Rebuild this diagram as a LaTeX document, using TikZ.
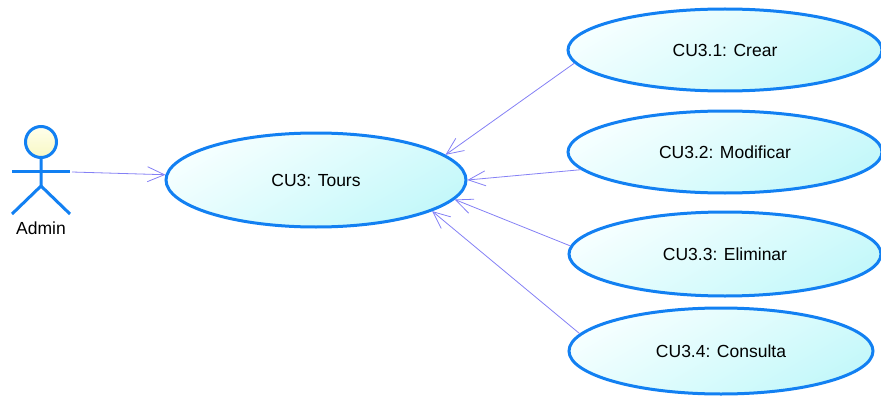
\documentclass[tikz,border=0pt]{standalone}
\usepackage{fontspec}
\setmainfont{Liberation Sans}
\usetikzlibrary{shapes.geometric,arrows.meta}
\definecolor{ucblue}{RGB}{18,128,242}
\definecolor{ucline}{RGB}{132,128,245}
\definecolor{ucpale}{RGB}{246,255,255}
\definecolor{uccyan}{RGB}{196,248,250}
\definecolor{headpale}{RGB}{255,255,236}
\definecolor{headyel}{RGB}{248,248,196}
\begin{document}
\begin{tikzpicture}[x=1pt,y=-1pt,>={Straight Barb[length=17pt,width=15pt]},
usecase/.style={ellipse,draw=ucblue,line width=3pt,
  top color=ucpale,bottom color=uccyan,shading angle=30,
  font=\fontsize{17.5}{20}\selectfont,inner sep=0pt},
assoc/.style={draw=ucline,line width=0.8pt},
actorline/.style={draw=ucblue,line width=3pt}]
\useasboundingbox (0,0) rectangle (881,396);
% use cases
\node[usecase,minimum width=300pt,minimum height=94pt] (cu3) at (316,180) {CU3: Tours};
\node[usecase,minimum width=314pt,minimum height=82pt] (cu31) at (725,50) {CU3.1: Crear};
\node[usecase,minimum width=314pt,minimum height=82pt] (cu32) at (725,152) {CU3.2: Modificar};
\node[usecase,minimum width=312pt,minimum height=84pt] (cu33) at (725,254) {CU3.3: Eliminar};
\node[usecase,minimum width=304pt,minimum height=86pt] (cu34) at (721,351) {CU3.4: Consulta};
% actor
\shade[draw=ucblue,line width=3pt,top color=headpale,bottom color=headyel] (41,142) circle (15.5);
\path[actorline] (12,171) -- (70,171);
\path[actorline] (41,158) -- (41,186) -- (12,214);
\path[actorline] (41,186) -- (70,214);
\node[font=\fontsize{17.5}{20}\selectfont] (admin) at (41,228) {Admin};
\coordinate (adminarm) at (72,172);
% associations
\path[assoc](adminarm) edge[->] (cu3.178);
\path[assoc](cu31.185) edge[->] (cu3.11);
\path[assoc](cu32.187) edge[->] (cu3.0);
\path[assoc](cu33.177) edge[->] (cu3.352);
\path[assoc](cu34.173) edge[->] (cu3.345);
\end{tikzpicture}
\end{document}
